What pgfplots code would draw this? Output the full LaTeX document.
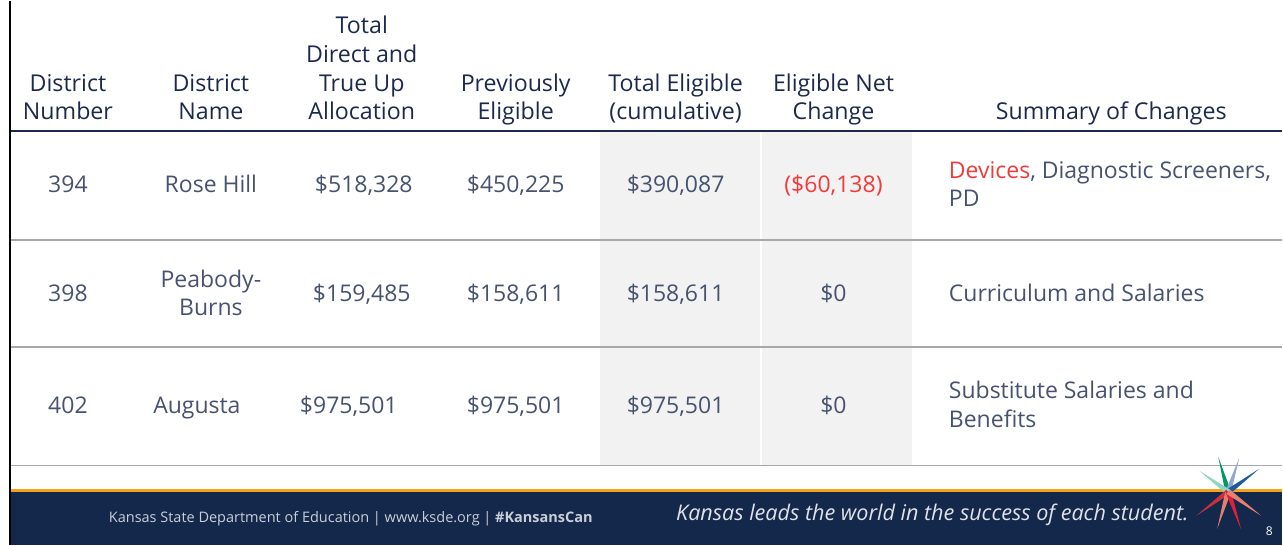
\documentclass[border=0pt]{standalone}
\usepackage{fontspec}
\setmainfont{Open Sans}
\usepackage{pgfplots}
\pgfplotsset{compat=1.18}
\definecolor{hdr}{HTML}{1B2A4C}
\definecolor{bodyc}{HTML}{46526F}
\definecolor{redc}{HTML}{F23A3A}
\definecolor{cellg}{HTML}{F2F2F2}
\definecolor{rowl}{HTML}{A8A8A8}
\definecolor{navy}{HTML}{14284B}
\definecolor{orangec}{HTML}{F7A21B}
\definecolor{foottxt}{HTML}{C9CED8}
\begin{document}
\begin{tikzpicture}
\begin{axis}[width=1283pt,height=544pt,scale only axis,hide axis,
  xmin=0,xmax=1283,ymin=0,ymax=544,y dir=reverse,clip=false,
  every node/.style={inner sep=0pt,outer sep=0pt}]
% shaded columns
\addplot[fill=cellg,draw=none] coordinates {(600,131)(760,131)(760,464)(600,464)} --cycle;
\addplot[fill=cellg,draw=none] coordinates {(762,131)(913,131)(913,464)(762,464)} --cycle;
% row lines
\addplot[rowl,line width=1.3pt] coordinates {(10,239)(1283,239)};
\addplot[rowl,line width=1.3pt] coordinates {(10,346)(1283,346)};
\addplot[rowl,line width=1.3pt] coordinates {(10,465)(1283,465)};
% header line
\addplot[hdr,line width=1.6pt] coordinates {(10,130)(1283,130)};
% footer
\addplot[fill=navy,draw=none] coordinates {(10,491)(1283,491)(1283,544)(10,544)} --cycle;
\addplot[fill=orangec,draw=none] coordinates {(10,488)(1283,488)(1283,491)(10,491)} --cycle;
% left border
\addplot[black,line width=2.2pt] coordinates {(10,0)(10,544)};
% star logo
\addplot[fill=teal!80!green,draw=none] coordinates {(1226,491)(1219,456)(1232,491)} --cycle;
\addplot[fill={rgb,255:red,143;green,168;blue,204},draw=none] coordinates {(1226,491)(1240,457)(1232,491)} --cycle;
\addplot[fill={rgb,255:red,31;green,90;blue,154},draw=none] coordinates {(1227,489)(1260,468)(1231,493)} --cycle;
\addplot[fill={rgb,255:red,143;green,212;blue,196},draw=none] coordinates {(1227,493)(1200,470)(1231,489)} --cycle;
\addplot[fill={rgb,255:red,200;green,49;blue,58},draw=none] coordinates {(1227,489)(1197,515)(1231,493)} --cycle;
\addplot[fill={rgb,255:red,224;green,128;blue,112},draw=none] coordinates {(1226,491)(1218,528)(1232,491)} --cycle;
\addplot[fill={rgb,255:red,224;green,32;blue,58},draw=none] coordinates {(1226,491)(1242,529)(1232,491)} --cycle;
\addplot[fill={rgb,255:red,232;green,128;blue,112},draw=none] coordinates {(1227,493)(1262,515)(1231,489)} --cycle;
% bounding
\path (axis cs:0,0) (axis cs:1283,544);
% header text
\begin{scope}[every node/.append style={anchor=base,text=hdr,font=\fontsize{23.2}{28}\selectfont}]
\node at (axis cs:68,90) {District};
\node at (axis cs:68,118) {Number};
\node at (axis cs:211,90) {District};
\node at (axis cs:211,118) {Name};
\node at (axis cs:362,32) {Total};
\node at (axis cs:362,61) {Direct and};
\node at (axis cs:362,90) {True Up};
\node at (axis cs:362,118) {Allocation};
\node at (axis cs:516,90) {Previously};
\node at (axis cs:516,118) {Eligible};
\node at (axis cs:676,90) {Total Eligible};
\node at (axis cs:676,118) {(cumulative)};
\node at (axis cs:834,90) {Eligible Net};
\node at (axis cs:834,118) {Change};
\node at (axis cs:1112,118) {Summary of Changes};
\end{scope}
% body text
\begin{scope}[every node/.append style={anchor=base,text=bodyc,font=\fontsize{23}{28}\selectfont}]
\node at (axis cs:68,192) {394};
\node at (axis cs:211,192) {Rose Hill};
\node at (axis cs:364,192) {\$518,328};
\node at (axis cs:516,192) {\$450,225};
\node at (axis cs:676,192) {\$390,087};
\node[text=redc] at (axis cs:834,192) {(\$60,138)};
\node[anchor=base west] at (axis cs:946,178) {\textcolor{redc}{Devices}, Diagnostic Screeners,};
\node[anchor=base west] at (axis cs:946,206) {PD};
\node at (axis cs:68,301) {398};
\node at (axis cs:211,287) {Peabody-};
\node at (axis cs:211,315) {Burns};
\node at (axis cs:362,301) {\$159,485};
\node at (axis cs:516,301) {\$158,611};
\node at (axis cs:676,301) {\$158,611};
\node at (axis cs:834,301) {\$0};
\node[anchor=base west] at (axis cs:946,301) {Curriculum and Salaries};
\node at (axis cs:68,413) {402};
\node at (axis cs:197,413) {Augusta};
\node at (axis cs:349,413) {\$975,501};
\node at (axis cs:516,413) {\$975,501};
\node at (axis cs:676,413) {\$975,501};
\node at (axis cs:834,413) {\$0};
\node[anchor=base west] at (axis cs:946,398) {Substitute Salaries and};
\node[anchor=base west] at (axis cs:946,427) {Benefits};
\end{scope}
% footer text
\node[anchor=base,text=foottxt,font=\fontsize{14.5}{16}\selectfont] at (axis cs:351,522) {Kansas State Department of Education | www.ksde.org | \textbf{\#KansansCan}};
\node[anchor=base,text=foottxt!60!white,font=\fontsize{21.6}{24}\selectfont\itshape] at (axis cs:933,520) {Kansas leads the world in the success of each student.};
\node[anchor=base,text=white,font=\fontsize{12}{14}\selectfont] at (axis cs:1270,535) {8};
\end{axis}
\end{tikzpicture}
\end{document}
